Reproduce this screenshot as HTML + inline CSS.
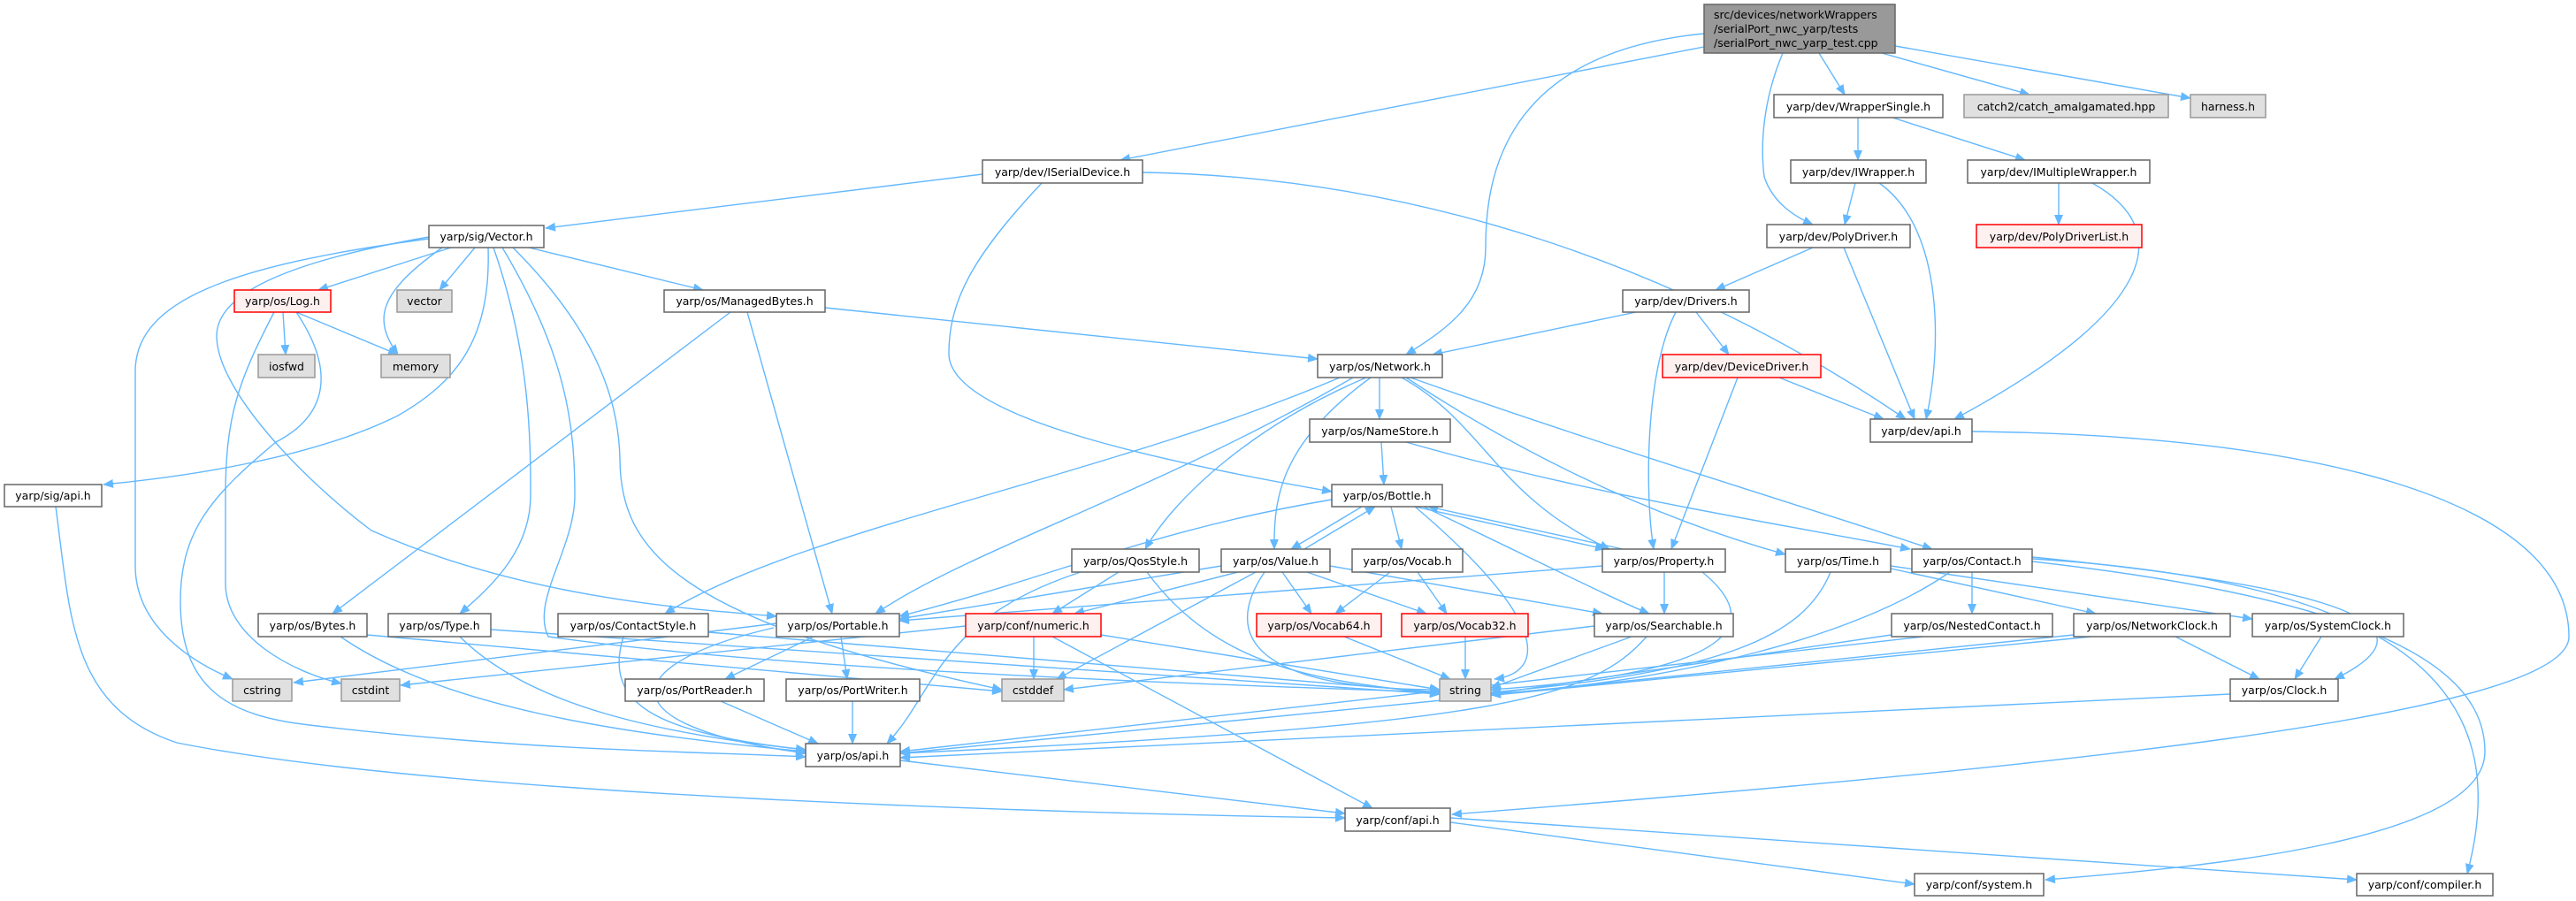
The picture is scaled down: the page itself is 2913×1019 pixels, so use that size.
<!DOCTYPE html>
<html><head><meta charset="utf-8"><style>
html,body{margin:0;padding:0;background:#fff;}
svg{display:block;}
text{font-family:"DejaVu Sans","Liberation Sans",sans-serif;font-size:12.5px;fill:#000;}
.n{fill:#fff;stroke:#666;stroke-width:1.5;}
.g{fill:#e0e0e0;stroke:#999;stroke-width:1.5;}
.r{fill:#fff0f0;stroke:#ff0000;stroke-width:1.5;}
.e{fill:none;stroke:#63b8ff;stroke-width:1.4;marker-end:url(#a);}
</style></head><body>
<svg width="2913" height="1019" viewBox="0 0 2913 1019" xmlns="http://www.w3.org/2000/svg">
<defs><marker id="a" markerWidth="12" markerHeight="10" refX="11" refY="5" orient="auto" markerUnits="userSpaceOnUse"><path d="M0,0 L12,5 L0,10 Z" fill="#63b8ff"/></marker></defs>
<g>
<path class="e" d="M1927,53 L1267,181"/>
<path class="e" d="M1927,38 C1700,60 1680,200 1680,280 C1680,340 1640,370 1590,401"/>
<path class="e" d="M2016,60 C1995,110 1990,160 1995,200 C2005,230 2030,245 2050,254"/>
<path class="e" d="M2057,60 L2086,107"/>
<path class="e" d="M2128,60 L2295,107"/>
<path class="e" d="M2143,52 L2477,111"/>
<path class="e" d="M2101,133 L2101,181"/>
<path class="e" d="M2140,133 L2290,181"/>
<path class="e" d="M2098,207 L2086,254"/>
<path class="e" d="M2125,207 C2200,260 2195,400 2178,474"/>
<path class="e" d="M2328,207 L2328,254"/>
<path class="e" d="M2366,207 C2460,260 2440,350 2210,474"/>
<path class="e" d="M2050,280 L1940,328"/>
<path class="e" d="M2085,280 L2165,474"/>
<path class="e" d="M1292,195 C1600,200 1900,300 2155,474"/>
<path class="e" d="M1111,197 L617,258"/>
<path class="e" d="M1178,207 C1100,290 1073,340 1073,400 C1073,470 1300,520 1506,556"/>
<path class="e" d="M1850,353 L1620,401"/>
<path class="e" d="M1918,353 L1955,401"/>
<path class="e" d="M1895,353 C1860,420 1860,560 1870,621"/>
<path class="e" d="M2012,427 L2130,474"/>
<path class="e" d="M1965,427 L1890,621"/>
<path class="e" d="M2230,488 C2600,492 2905,560 2905,720 C2905,810 2300,870 1642,921"/>
<path class="e" d="M933,348 L1490,406"/>
<path class="e" d="M510,280 L360,328"/>
<path class="e" d="M537,280 L497,328"/>
<path class="e" d="M500,280 C430,330 420,360 450,401"/>
<path class="e" d="M598,280 L795,328"/>
<path class="e" d="M485,270 C260,300 153,340 153,420 L153,640 C153,710 220,750 263,768"/>
<path class="e" d="M335,353 L450,401"/>
<path class="e" d="M320,353 L323,401"/>
<path class="e" d="M335,353 C380,420 370,470 312,500 C240,560 204,600 204,680 C204,780 260,810 350,820 C600,850 800,850 911,856"/>
<path class="e" d="M310,353 C270,430 255,470 255,560 L255,660 C255,720 330,760 386,773"/>
<path class="e" d="M552,280 C555,380 520,430 450,470 C350,520 200,540 117,548"/>
<path class="e" d="M485,268 C300,300 245,340 245,380 C245,440 340,540 420,600 C600,680 800,690 878,697"/>
<path class="e" d="M558,280 C600,400 600,500 600,560 C600,620 560,660 520,694"/>
<path class="e" d="M568,280 C640,400 650,480 650,560 C650,620 600,680 620,720 C900,760 1400,775 1628,783"/>
<path class="e" d="M580,280 C680,380 700,460 701,520 C702,620 760,700 1133,780"/>
<path class="e" d="M826,353 L376,694"/>
<path class="e" d="M845,353 L941,694"/>
<path class="e" d="M1560,427 L1560,474"/>
<path class="e" d="M1515,427 C1250,540 900,600 752,694"/>
<path class="e" d="M1530,427 C1300,560 1100,620 990,694"/>
<path class="e" d="M1545,427 C1420,480 1330,560 1295,621"/>
<path class="e" d="M1550,427 C1450,500 1440,560 1441,621"/>
<path class="e" d="M1585,427 C1680,480 1690,560 1820,621"/>
<path class="e" d="M1590,427 C1700,500 1850,580 2019,627"/>
<path class="e" d="M1595,427 C1800,500 2000,560 2185,621"/>
<path class="e" d="M1562,500 L1565,548"/>
<path class="e" d="M1590,500 C1800,560 2000,590 2160,621"/>
<path class="e" d="M1540,573 L1460,621"/>
<path class="e" d="M1475,621 L1555,573"/>
<path class="e" d="M1573,573 L1585,621"/>
<path class="e" d="M1600,573 L1815,621"/>
<path class="e" d="M1835,621 L1615,573"/>
<path class="e" d="M1610,573 C1750,640 1830,680 1865,694"/>
<path class="e" d="M1600,573 C1750,700 1750,760 1690,768"/>
<path class="e" d="M1506,565 C1300,600 1200,650 1017,697"/>
<path class="e" d="M1400,647 L1215,694"/>
<path class="e" d="M1381,640 L1017,700"/>
<path class="e" d="M1420,647 L1195,768"/>
<path class="e" d="M1430,647 C1380,720 1420,780 1628,780"/>
<path class="e" d="M1450,647 L1483,694"/>
<path class="e" d="M1478,647 L1613,694"/>
<path class="e" d="M1504,640 L1812,694"/>
<path class="e" d="M1265,647 L1190,694"/>
<path class="e" d="M1297,647 C1380,760 1500,770 1628,785"/>
<path class="e" d="M1222,647 C1060,700 1060,780 1003,841"/>
<path class="e" d="M1572,647 L1510,694"/>
<path class="e" d="M1603,647 L1636,694"/>
<path class="e" d="M1882,647 L1882,694"/>
<path class="e" d="M1812,640 L1017,702"/>
<path class="e" d="M1925,647 C1990,700 1980,760 1686,780"/>
<path class="e" d="M1845,720 L1686,778"/>
<path class="e" d="M1803,708 L1203,780"/>
<path class="e" d="M1862,720 C1800,790 1700,820 1018,852"/>
<path class="e" d="M1092,708 L453,775"/>
<path class="e" d="M1169,720 L1169,768"/>
<path class="e" d="M1245,718 L1628,780"/>
<path class="e" d="M1190,720 L1552,914"/>
<path class="e" d="M1520,720 L1640,768"/>
<path class="e" d="M1657,720 L1657,768"/>
<path class="e" d="M920,720 L820,768"/>
<path class="e" d="M951,720 L958,768"/>
<path class="e" d="M875,710 C700,750 680,820 911,852"/>
<path class="e" d="M878,705 L332,772"/>
<path class="e" d="M815,793 L925,841"/>
<path class="e" d="M964,793 L964,841"/>
<path class="e" d="M385,720 C500,800 700,830 911,850"/>
<path class="e" d="M415,718 L1133,782"/>
<path class="e" d="M520,720 C600,800 750,830 911,848"/>
<path class="e" d="M555,712 L1628,785"/>
<path class="e" d="M705,720 C680,800 750,830 911,848"/>
<path class="e" d="M801,715 L1628,783"/>
<path class="e" d="M1018,860 L1521,920"/>
<path class="e" d="M63,573 C80,700 80,800 200,840 C500,900 1200,920 1521,925"/>
<path class="e" d="M1640,930 L2165,1000"/>
<path class="e" d="M1640,925 L2665,995"/>
<path class="e" d="M2070,647 C2040,720 1950,760 1686,783"/>
<path class="e" d="M2138,643 L2370,694"/>
<path class="e" d="M2138,640 L2547,700"/>
<path class="e" d="M2230,647 L2230,694"/>
<path class="e" d="M2205,647 C2100,720 1900,770 1686,785"/>
<path class="e" d="M2298,630 C2600,660 2780,700 2640,768"/>
<path class="e" d="M2298,635 C2700,680 2810,760 2810,850 C2810,950 2500,980 2313,995"/>
<path class="e" d="M2298,632 C2750,660 2840,800 2790,988"/>
<path class="e" d="M2139,718 L1686,785"/>
<path class="e" d="M2175,720 L1018,850"/>
<path class="e" d="M2345,718 L1686,786"/>
<path class="e" d="M2365,720 L1018,852"/>
<path class="e" d="M2460,720 L2555,768"/>
<path class="e" d="M2625,720 L2595,768"/>
<path class="e" d="M2522,785 L1018,857"/>
</g>
<g text-anchor="middle">
<rect x="1927" y="5" width="216" height="55" fill="#999" stroke="#666" stroke-width="1.5"/>
<text x="1938" y="21" text-anchor="start">src/devices/networkWrappers</text>
<text x="1938" y="37" text-anchor="start">/serialPort_nwc_yarp/tests</text>
<text x="1938" y="53" text-anchor="start">/serialPort_nwc_yarp_test.cpp</text>

<rect class="n" x="1111" y="181" width="181" height="26"/><text x="1201.5" y="199">yarp/dev/ISerialDevice.h</text>
<rect class="n" x="2006" y="107" width="191" height="26"/><text x="2101.5" y="125">yarp/dev/WrapperSingle.h</text>
<rect class="g" x="2221" y="107" width="231" height="26"/><text x="2336.5" y="125">catch2/catch_amalgamated.hpp</text>
<rect class="g" x="2477" y="107" width="85" height="26"/><text x="2519.5" y="125">harness.h</text>
<rect class="n" x="2025" y="181" width="153" height="26"/><text x="2101.5" y="199">yarp/dev/IWrapper.h</text>
<rect class="n" x="2225" y="181" width="206" height="26"/><text x="2328" y="199">yarp/dev/IMultipleWrapper.h</text>
<rect class="n" x="1998" y="254" width="162" height="26"/><text x="2079" y="272">yarp/dev/PolyDriver.h</text>
<rect class="r" x="2235" y="254" width="187" height="26"/><text x="2328.5" y="272">yarp/dev/PolyDriverList.h</text>
<rect class="n" x="485" y="255" width="130" height="25"/><text x="550" y="272">yarp/sig/Vector.h</text>
<rect class="r" x="265" y="328" width="109" height="25"/><text x="319.5" y="345">yarp/os/Log.h</text>
<rect class="g" x="449" y="328" width="62" height="25"/><text x="480" y="345">vector</text>
<rect class="n" x="751" y="328" width="182" height="25"/><text x="842" y="345">yarp/os/ManagedBytes.h</text>
<rect class="n" x="1835" y="328" width="143" height="25"/><text x="1906.5" y="345">yarp/dev/Drivers.h</text>
<rect class="g" x="292" y="401" width="64" height="26"/><text x="324" y="419">iosfwd</text>
<rect class="g" x="431" y="401" width="78" height="26"/><text x="470" y="419">memory</text>
<rect class="n" x="1490" y="401" width="141" height="26"/><text x="1560.5" y="419">yarp/os/Network.h</text>
<rect class="r" x="1880" y="401" width="179" height="26"/><text x="1969.5" y="419">yarp/dev/DeviceDriver.h</text>
<rect class="n" x="1481" y="474" width="159" height="26"/><text x="1560.5" y="492">yarp/os/NameStore.h</text>
<rect class="n" x="2115" y="474" width="115" height="26"/><text x="2172.5" y="492">yarp/dev/api.h</text>
<rect class="n" x="5" y="548" width="110" height="25"/><text x="60" y="565">yarp/sig/api.h</text>
<rect class="n" x="1506" y="548" width="125" height="25"/><text x="1568.5" y="565">yarp/os/Bottle.h</text>
<rect class="n" x="1212" y="621" width="144" height="26"/><text x="1284" y="639">yarp/os/QosStyle.h</text>
<rect class="n" x="1381" y="621" width="123" height="26"/><text x="1442.5" y="639">yarp/os/Value.h</text>
<rect class="n" x="1529" y="621" width="125" height="26"/><text x="1591.5" y="639">yarp/os/Vocab.h</text>
<rect class="n" x="1812" y="621" width="139" height="26"/><text x="1881.5" y="639">yarp/os/Property.h</text>
<rect class="n" x="2019" y="621" width="119" height="26"/><text x="2078.5" y="639">yarp/os/Time.h</text>
<rect class="n" x="2162" y="621" width="136" height="26"/><text x="2230" y="639">yarp/os/Contact.h</text>
<rect class="n" x="292" y="694" width="123" height="26"/><text x="353.5" y="712">yarp/os/Bytes.h</text>
<rect class="n" x="439" y="694" width="116" height="26"/><text x="497" y="712">yarp/os/Type.h</text>
<rect class="n" x="631" y="694" width="170" height="26"/><text x="716" y="712">yarp/os/ContactStyle.h</text>
<rect class="n" x="878" y="694" width="139" height="26"/><text x="947.5" y="712">yarp/os/Portable.h</text>
<rect class="r" x="1092" y="694" width="153" height="26"/><text x="1168.5" y="712">yarp/conf/numeric.h</text>
<rect class="r" x="1421" y="694" width="141" height="26"/><text x="1491.5" y="712">yarp/os/Vocab64.h</text>
<rect class="r" x="1585" y="694" width="143" height="26"/><text x="1656.5" y="712">yarp/os/Vocab32.h</text>
<rect class="n" x="1803" y="694" width="157" height="26"/><text x="1881.5" y="712">yarp/os/Searchable.h</text>
<rect class="n" x="2139" y="694" width="182" height="26"/><text x="2230" y="712">yarp/os/NestedContact.h</text>
<rect class="n" x="2345" y="694" width="177" height="26"/><text x="2433.5" y="712">yarp/os/NetworkClock.h</text>
<rect class="n" x="2547" y="694" width="171" height="26"/><text x="2632.5" y="712">yarp/os/SystemClock.h</text>
<rect class="g" x="263" y="768" width="67" height="25"/><text x="296.5" y="785">cstring</text>
<rect class="g" x="386" y="768" width="66" height="25"/><text x="419" y="785">cstdint</text>
<rect class="n" x="707" y="768" width="157" height="25"/><text x="785.5" y="785">yarp/os/PortReader.h</text>
<rect class="n" x="889" y="768" width="151" height="25"/><text x="964.5" y="785">yarp/os/PortWriter.h</text>
<rect class="g" x="1133" y="768" width="70" height="25"/><text x="1168" y="785">cstddef</text>
<rect class="g" x="1628" y="768" width="58" height="25"/><text x="1657" y="785">string</text>
<rect class="n" x="2522" y="768" width="122" height="25"/><text x="2583" y="785">yarp/os/Clock.h</text>
<rect class="n" x="911" y="841" width="107" height="26"/><text x="964.5" y="859">yarp/os/api.h</text>
<rect class="n" x="1521" y="914" width="119" height="26"/><text x="1580.5" y="932">yarp/conf/api.h</text>
<rect class="n" x="2165" y="988" width="146" height="25"/><text x="2238" y="1005">yarp/conf/system.h</text>
<rect class="n" x="2665" y="988" width="154" height="25"/><text x="2742" y="1005">yarp/conf/compiler.h</text>
</g>
</svg>
</body></html>
